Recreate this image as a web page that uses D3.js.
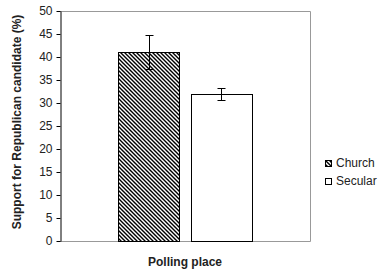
<!DOCTYPE html>
<html>
<head>
<meta charset="utf-8">
<script src="https://cdn.jsdelivr.net/npm/d3@7"></script>
<style>
  body { margin: 0; background: #fff; }
  svg { display: block; font-family: "Liberation Sans", Arial, sans-serif; }
</style>
</head>
<body>
<div id="chart"></div>
<script>
// chart values
const series = ["Church", "Secular"];
const means = [41.0, 32.0];
const errors = [3.7, 1.3];
const yTicks = [0, 5, 10, 15, 20, 25, 30, 35, 40, 45, 50];
const yTitle = "Support for Republican candidate (%)";
const xTitle = "Polling place";

const width = 381, height = 273;
const plot = { left: 60, top: 11, right: 310, bottom: 241 };

const svg = d3.select("#chart").append("svg")
    .attr("width", width)
    .attr("height", height);

// hatch for the church bar
const pattern = svg.append("defs").append("pattern")
    .attr("id", "hatch")
    .attr("patternUnits", "userSpaceOnUse")
    .attr("width", 4)
    .attr("height", 4);
pattern.append("rect").attr("width", 4).attr("height", 4).attr("fill", "#fff");
pattern.append("path")
    .attr("d", "M-1,-1 L5,5 M3,-1 L5,1 M-1,3 L1,5")
    .attr("stroke", "#000")
    .attr("stroke-width", 1.4);

const fills = ["url(#hatch)", "#fff"];

const y = d3.scaleLinear()
    .domain([0, 50])
    .range([plot.bottom, plot.top]);

const x = d3.scaleBand()
    .domain(series)
    .range([plot.left, plot.right])
    .paddingInner(0.164)
    .paddingOuter(0.795);

// plot frame (grey top/right/bottom)
svg.append("path")
    .attr("d", `M${plot.left},${plot.top + 0.5} H${plot.right + 0.5} V${plot.bottom + 0.5} H${plot.left}`)
    .attr("fill", "none")
    .attr("stroke", "#999")
    .attr("stroke-width", 1);

// bars
svg.selectAll("rect.bar")
    .data(series)
    .enter().append("rect")
    .attr("class", "bar")
    .attr("x", d => Math.round(x(d)) + 0.5)
    .attr("y", (d, i) => Math.round(y(means[i])) + 0.5)
    .attr("width", Math.round(x.bandwidth()))
    .attr("height", (d, i) => Math.round(plot.bottom - y(means[i])))
    .attr("fill", (d, i) => fills[i])
    .attr("stroke", "#000")
    .attr("stroke-width", 1);

// error bars
const capW = 4;
series.forEach((s, i) => {
    const cx = Math.round(x(s) + x.bandwidth() / 2) + 0.5;
    const y1 = Math.round(y(means[i] + errors[i])) + 0.5;
    const y2 = Math.round(y(means[i] - errors[i])) + 0.5;
    const g = svg.append("g").attr("stroke", "#000").attr("stroke-width", 1);
    g.append("line").attr("x1", cx).attr("x2", cx).attr("y1", y1).attr("y2", y2);
    g.append("line").attr("x1", cx - capW).attr("x2", cx + capW).attr("y1", y1).attr("y2", y1);
    g.append("line").attr("x1", cx - capW).attr("x2", cx + capW).attr("y1", y2).attr("y2", y2);
});

// y axis
const yAxis = svg.append("g")
    .attr("transform", `translate(${plot.left + 0.5},0)`)
    .call(d3.axisLeft(y).tickValues(yTicks).tickSize(4).tickSizeOuter(0).tickPadding(4));
yAxis.select(".domain").attr("stroke", "#000");
yAxis.selectAll(".tick line").attr("stroke", "#000");
yAxis.selectAll(".tick text")
    .attr("fill", "#222")
    .style("font-size", "12px")
    .style("font-family", "Liberation Sans, Arial, sans-serif");

// axis titles
svg.append("text")
    .attr("transform", `translate(21,${(plot.top + plot.bottom) / 2 - 4}) rotate(-90)`)
    .attr("text-anchor", "middle")
    .style("font-size", "12px")
    .style("font-weight", "bold")
    .attr("fill", "#222")
    .text(yTitle);

svg.append("text")
    .attr("x", (plot.left + plot.right) / 2)
    .attr("y", 266)
    .attr("text-anchor", "middle")
    .style("font-size", "12px")
    .style("font-weight", "bold")
    .attr("fill", "#222")
    .text(xTitle);

// legend
const legend = svg.append("g").attr("transform", "translate(325,160)");
series.forEach((s, i) => {
    const row = legend.append("g").attr("transform", `translate(0,${i * 18})`);
    row.append("rect")
        .attr("x", 0.5).attr("y", 0.5)
        .attr("width", 6).attr("height", 6)
        .attr("fill", fills[i])
        .attr("stroke", "#000");
    row.append("text")
        .attr("x", 11)
        .attr("y", 7)
        .style("font-size", "12px")
        .attr("fill", "#222")
        .text(s);
});
</script>
</body>
</html>
